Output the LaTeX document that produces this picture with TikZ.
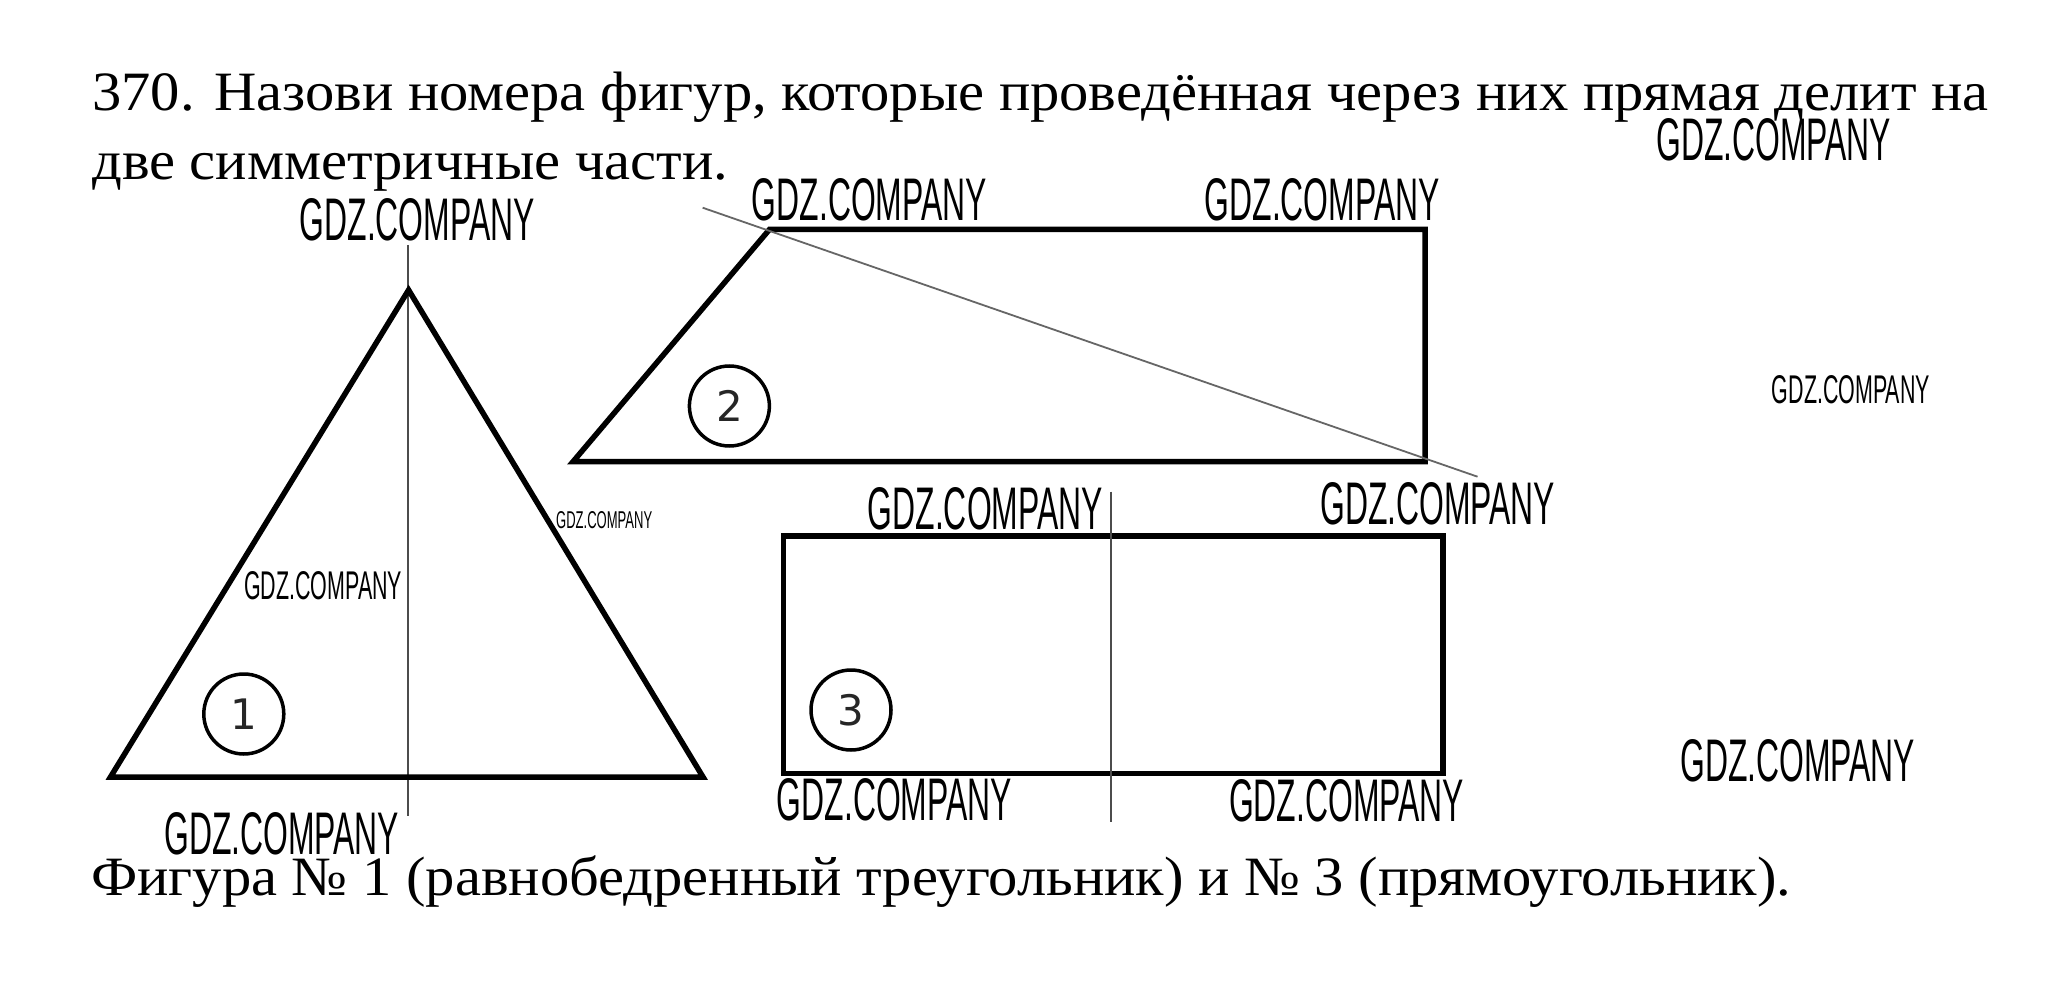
\documentclass[tikz,border=0pt]{standalone}
\usepackage{fontspec}
\setmainfont{Liberation Serif}
\newfontfamily\wmfont{Liberation Sans}
\newfontfamily\digfont{DejaVu Sans}
\usepackage{graphicx}
\newcommand{\wmbig}{\resizebox{235pt}{42pt}{\wmfont GDZ.COMPANY}}
\newcommand{\wmmid}{\resizebox{158pt}{28pt}{\wmfont GDZ.COMPANY}}
\newcommand{\wmsmall}{\resizebox{96pt}{17pt}{\wmfont GDZ.COMPANY}}
\newcommand{\wide}[1]{\scalebox{1.055}[1]{#1}}
\begin{document}
\begin{tikzpicture}[x=1pt,y=-1pt,
  figline/.style={line width=5.5pt, line join=miter, black},
  symline/.style={line width=2pt, black!70},
  diagline/.style={line width=1.8pt, black!60},
  numcircle/.style={circle, draw, line width=3.5pt, minimum size=80pt, inner sep=0pt, font=\digfont\fontsize{42}{42}\selectfont, text=black!85},
  maintext/.style={anchor=base west, inner sep=0pt, font=\fontsize{55.5}{60}\selectfont},
  wm/.style={anchor=south west, inner sep=0pt}]
\useasboundingbox (0,0) rectangle (2064,1000);
\fill[white] (0,0) rectangle (2064,1000);

% title
\node[maintext] (t1) at (92,111) {\wide{370. Назови номера фигур, которые проведённая через них прямая делит на}};
\node[maintext] (t2) at (92,180) {\wide{две симметричные части.}};
\node[maintext] (t3) at (91,895) {\wide{Фигура № 1 (равнобедренный треугольник) и № 3 (прямоугольник).}};

% figure 1: triangle
\coordinate (A1) at (408.6,290);
\coordinate (B1) at (110.5,777);
\coordinate (C1) at (703,777);
\coordinate (s1top) at (407.5,245);
\coordinate (s1bot) at (407.5,816);
\draw[symline] (s1top) -- (s1bot);
\draw[figline] (A1) -- (B1) -- (C1) -- cycle;
\node[numcircle] (n1) at (243.8,714) {1};

% figure 2: trapezoid
\coordinate (A2) at (769.6,229.3);
\coordinate (B2) at (1425,229.3);
\coordinate (C2) at (1425,461.7);
\coordinate (D2) at (573,461.7);
\coordinate (d2a) at (702.6,207.7);
\coordinate (d2b) at (1477.5,476.7);
\draw[figline] (A2) -- (B2) -- (C2) -- (D2) -- cycle;
\draw[diagline] (d2a) -- (d2b);
\node[numcircle] (n2) at (729.4,406) {2};

% figure 3: rectangle
\coordinate (A3) at (783.4,536);
\coordinate (C3) at (1443,773.3);
\coordinate (s3top) at (1111.4,491.7);
\coordinate (s3bot) at (1111.4,821.7);
\draw[figline] (A3) rectangle (C3);
\draw[symline] (s3top) -- (s3bot);
\node[numcircle] (n3) at (851,710) {3};

% watermarks
\node[wm] (w1) at (1656,161.7) {\wmbig};
\node[wm] (w2) at (299.5,241.7) {\wmbig};
\node[wm] (w3) at (751.7,221.7) {\wmbig};
\node[wm] (w4) at (1204.5,221.7) {\wmbig};
\node[wm] (w5) at (867.6,530) {\wmbig};
\node[wm] (w6) at (1320,525) {\wmbig};
\node[wm] (w7) at (776.7,821.7) {\wmbig};
\node[wm] (w8) at (1228.8,822) {\wmbig};
\node[wm] (w9) at (1680,782.3) {\wmbig};
\node[wm] (w10) at (164,855) {\wmbig};
\node[wm] (w11) at (244,600) {\wmmid};
\node[wm] (w12) at (1771.7,404) {\wmmid};
\node[wm] (w13) at (556,529) {\wmsmall};
\end{tikzpicture}
\end{document}
